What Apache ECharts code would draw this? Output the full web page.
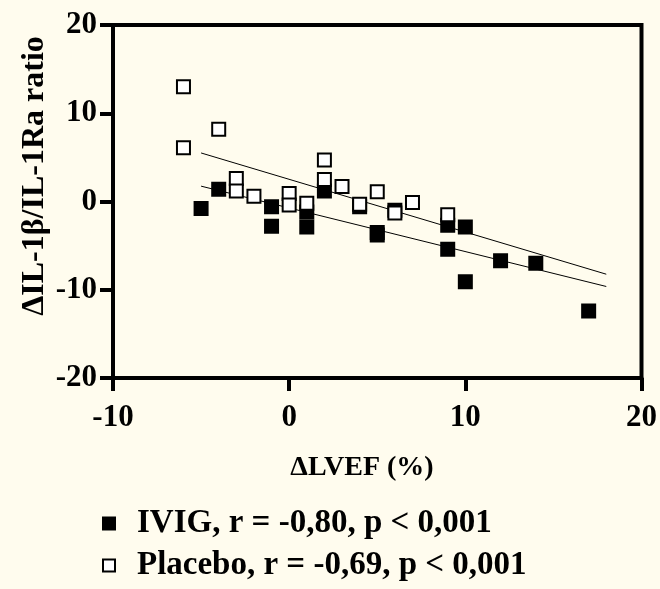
<!DOCTYPE html>
<html>
<head>
<meta charset="utf-8">
<script src="https://cdn.jsdelivr.net/npm/echarts@6/dist/echarts.min.js"></script>
<style>
  html, body { margin: 0; padding: 0; background: #fffcee; }
  #chart { width: 660px; height: 589px; }
</style>
</head>
<body>
<div id="chart"></div>
<script>
// IVIG (filled squares)
const ivigX = [-5, -4, -1, -1, 1, 1, 2, 4, 5, 5, 6, 9, 9, 10, 10, 12, 14, 17];
const ivigY = [-0.8, 1.4, -0.6, -2.8, -1.2, -2.9, 1.2, -0.6, -3.5, -3.8, -1.0, -2.7, -5.4, -2.9, -9.1, -6.7, -7.0, -12.4];
// Placebo (open squares)
const placeboX = [-6, -6, -4, -3, -3, -2, 0, 0, 1, 2, 2, 3, 4, 5, 6, 7, 9];
const placeboY = [13.0, 6.1, 8.2, 2.6, 1.2, 0.6, 0.9, -0.4, -0.2, 4.7, 2.5, 1.7, -0.3, 1.1, -1.3, -0.1, -1.5];
// regression lines (end points)
const fitX = [-5, 18];
const ivigFitY = [1.74, -9.63];
const placeboFitY = [5.5, -8.24];

const xTicks = [-10, 0, 10, 20];
const yTicks = [-20, -10, 0, 10, 20];

const ivigName = 'IVIG, r = -0,80, p < 0,001';
const placeboName = 'Placebo, r = -0,69, p < 0,001';

const font = '"Liberation Serif", "Times New Roman", serif';
const zip = (xs, ys) => xs.map((x, i) => [x, ys[i]]);

const chart = echarts.init(document.getElementById('chart'));
chart.setOption({
  backgroundColor: '#fffcee',
  animation: false,
  grid: {
    left: 113, right: 17, top: 25, bottom: 211,
    show: true, borderColor: '#000', borderWidth: 4, backgroundColor: 'transparent'
  },
  xAxis: {
    type: 'value',
    min: xTicks[0], max: xTicks[xTicks.length - 1], interval: 10,
    axisLine: { onZero: false, lineStyle: { color: '#000', width: 4 } },
    axisTick: { length: 13, lineStyle: { color: '#000', width: 4 } },
    axisLabel: { color: '#000', fontFamily: font, fontWeight: 'bold', fontSize: 31, margin: 24 },
    splitLine: { show: false }
  },
  yAxis: {
    type: 'value',
    min: yTicks[0], max: yTicks[yTicks.length - 1], interval: 10,
    axisLine: { onZero: false, lineStyle: { color: '#000', width: 4 } },
    axisTick: { length: 13, lineStyle: { color: '#000', width: 4 } },
    axisLabel: { color: '#000', fontFamily: font, fontWeight: 'bold', fontSize: 31, margin: 16 },
    splitLine: { show: false }
  },
  legend: {
    orient: 'vertical',
    left: 97, top: 502,
    itemWidth: 12, itemHeight: 12, itemGap: 9,
    icon: 'rect',
    data: [ivigName, placeboName],
    textStyle: { color: '#000', fontFamily: font, fontWeight: 'bold', fontSize: 33, padding: [0, 0, 0, 17] }
  },
  graphic: [
    {
      type: 'text', //y轴标题
      x: 35, y: 176, rotation: Math.PI / 2,
      style: {
        text: 'ΔIL-1β/IL-1Ra ratio', fill: '#000',
        font: 'bold 32px ' + font, textAlign: 'center', textVerticalAlign: 'middle'
      }
    },
    {
      type: 'text', //x轴标题
      x: 362, y: 468,
      style: {
        text: 'ΔLVEF (%)', fill: '#000',
        font: 'bold 28px ' + font, textAlign: 'center', textVerticalAlign: 'middle'
      }
    }
  ],
  series: [
    {
      name: 'ivigFit', type: 'line', data: zip(fitX, ivigFitY),
      showSymbol: false, lineStyle: { color: '#000', width: 1 }, z: 1, silent: true
    },
    {
      name: 'placeboFit', type: 'line', data: zip(fitX, placeboFitY),
      showSymbol: false, lineStyle: { color: '#000', width: 1 }, z: 1, silent: true
    },
    {
      name: ivigName, type: 'scatter', data: zip(ivigX, ivigY),
      symbol: 'rect', symbolSize: 13,
      itemStyle: { color: '#000', borderColor: '#000', borderWidth: 2, opacity: 1 }, z: 2
    },
    {
      name: placeboName, type: 'scatter', data: zip(placeboX, placeboY),
      symbol: 'rect', symbolSize: 13,
      itemStyle: { color: '#fff', borderColor: '#000', borderWidth: 2, opacity: 1 }, z: 3
    }
  ]
});
</script>
</body>
</html>
